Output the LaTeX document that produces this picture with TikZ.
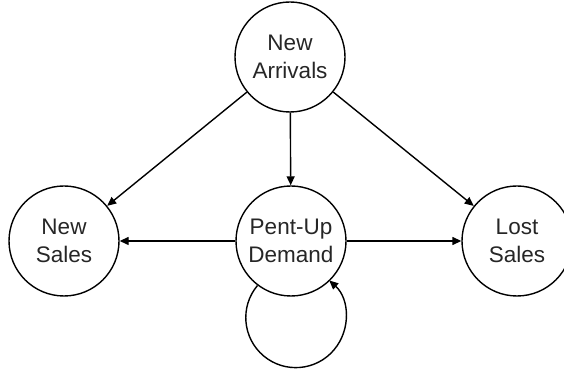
\documentclass[tikz,border=0pt]{standalone}
\usepackage{fontspec}
\setmainfont{Liberation Sans}
\usetikzlibrary{arrows.meta}
\tikzset{
  state/.style={circle, draw, line width=1.4pt, minimum size=110pt, inner sep=0pt,
    align=center, font=\fontsize{22.5}{28}\selectfont, text=black!85},
  arr/.style={line width=1.4pt, -{Triangle[length=9pt,width=8pt]}}
}
\begin{document}
\begin{tikzpicture}[x=1pt,y=1pt]
\useasboundingbox (0,0) rectangle (564,369);
\node[state] (na) at (290,312) {New\\Arrivals};
\node[state] (ns) at (64,128) {New\\Sales};
\node[state] (pd) at (291,128) {Pent-Up\\Demand};
\node[state] (ls) at (517,128) {Lost\\Sales};
\draw[arr] (na) -- (ns);
\draw[arr] (na) -- (pd);
\draw[arr] (na) -- (ls);
\draw[arr] (pd) -- (ns);
\draw[arr] (pd) -- (ls);
\draw[arr] (pd.233) arc[start angle=140, end angle=408, radius=50];
\end{tikzpicture}
\end{document}
